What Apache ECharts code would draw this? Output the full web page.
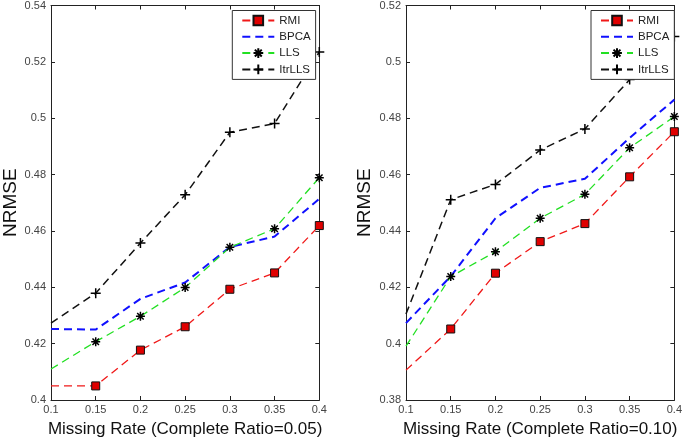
<!DOCTYPE html>
<html>
<head>
<meta charset="utf-8">
<script src="https://cdn.jsdelivr.net/npm/echarts@6/dist/echarts.min.js"></script>
<style>
  html, body { margin: 0; padding: 0; background: #fff; }
  #main { width: 685px; height: 443px; }
</style>
</head>
<body>
<div id="main"></div>
<script>
// missing rate on the x axis
var missingRate = [0.1, 0.15, 0.2, 0.25, 0.3, 0.35, 0.4];
var methods = ['RMI', 'BPCA', 'LLS', 'ItrLLS'];

// left panel: complete ratio = 0.05
var rmi05    = [0.405, 0.405, 0.4177, 0.426, 0.4393, 0.4451, 0.4619];
var bpca05   = [0.4252, 0.425, 0.4359, 0.4417, 0.4543, 0.458, 0.4714];
var lls05    = [0.411, 0.4207, 0.4297, 0.4399, 0.4542, 0.4608, 0.4789];
var itrlls05 = [0.4273, 0.4379, 0.4557, 0.4728, 0.495, 0.4981, 0.5235];

// right panel: complete ratio = 0.10
var rmi10    = [0.3906, 0.4052, 0.425, 0.4362, 0.4426, 0.4592, 0.4752];
var bpca10   = [0.4073, 0.4239, 0.4445, 0.4553, 0.4585, 0.473, 0.4866];
var lls10    = [0.3991, 0.4238, 0.4326, 0.4445, 0.453, 0.4695, 0.4806];
var itrlls10 = [0.4105, 0.4511, 0.4565, 0.4687, 0.4762, 0.4937, 0.509];

var FONT = 'Liberation Sans, Arial, sans-serif';
var DASH = [8, 5];

// MATLAB style markers
var asterisk = 'path://M0,-5L0,5M-5,0L5,0M-3.6,-3.6L3.6,3.6M-3.6,3.6L3.6,-3.6';
var plus = 'path://M0,-5L0,5M-5,0L5,0';

var styles = {
    RMI: { color: '#f01818', width: 1.3, symbol: 'rect', size: 8,
           item: { color: '#e00000', borderColor: '#111', borderWidth: 1 } },
    BPCA: { color: '#1010ff', width: 2, symbol: 'none', size: 0,
            item: { color: '#1010ff' } },
    LLS: { color: '#22e022', width: 1.3, symbol: asterisk, size: 9,
           item: { color: '#000', borderColor: '#000', borderWidth: 1.5 } },
    ItrLLS: { color: '#111', width: 1.5, symbol: plus, size: 10,
              item: { color: '#000', borderColor: '#000', borderWidth: 1.5 } }
};

function makeSeries(name, values, axisIdx) {
    var st = styles[name];
    var data = [];
    for (var i = 0; i < missingRate.length; i++) {
        if (i === 0) {
            data.push({ value: [missingRate[i], values[i]], symbol: 'none' });
        } else {
            data.push([missingRate[i], values[i]]);
        }
    }
    return {
        name: name,
        type: 'line',
        xAxisIndex: axisIdx,
        yAxisIndex: axisIdx,
        data: data,
        symbol: st.symbol,
        symbolSize: st.size,
        showSymbol: st.symbol !== 'none',
        clip: false,
        silent: true,
        lineStyle: { color: st.color, width: st.width, type: DASH },
        itemStyle: st.item,
        z: name === 'ItrLLS' ? 3 : 2
    };
}

function xAxes(grid, title) {
    return [{
        gridIndex: grid, type: 'value', position: 'bottom',
        min: 0.1, max: 0.4, interval: 0.05,
        axisLine: { show: true, lineStyle: { color: '#222' } },
        axisTick: { inside: true, length: 4, lineStyle: { color: '#222' } },
        axisLabel: { color: '#444', fontSize: 11, fontFamily: FONT, margin: 4 },
        splitLine: { show: false },
        name: title, nameLocation: 'middle', nameGap: 21,
        nameTextStyle: { color: '#111', fontSize: 17, fontFamily: FONT }
    }, {
        gridIndex: grid, type: 'value', position: 'top',
        min: 0.1, max: 0.4, interval: 0.05,
        axisLine: { show: true, lineStyle: { color: '#222' } },
        axisTick: { inside: true, length: 4, lineStyle: { color: '#222' } },
        axisLabel: { show: false },
        splitLine: { show: false }
    }];
}

function yAxes(grid, min, max, gap) {
    return [{
        gridIndex: grid, type: 'value', position: 'left',
        min: min, max: max, interval: 0.02,
        axisLine: { show: true, lineStyle: { color: '#222' } },
        axisTick: { inside: true, length: 4, lineStyle: { color: '#222' } },
        axisLabel: { color: '#444', fontSize: 11, fontFamily: FONT, margin: 5 },
        splitLine: { show: false },
        name: 'NRMSE', nameLocation: 'middle', nameGap: gap,
        nameTextStyle: { color: '#111', fontSize: 19, fontFamily: FONT }
    }, {
        gridIndex: grid, type: 'value', position: 'right',
        min: min, max: max, interval: 0.02,
        axisLine: { show: true, lineStyle: { color: '#222' } },
        axisTick: { inside: true, length: 4, lineStyle: { color: '#222' } },
        axisLabel: { show: false },
        splitLine: { show: false }
    }];
}

function legendAt(left) {
    var items = methods.map(function (m) {
        // BPCA has no marker, hide the default legend symbol
        if (m === 'BPCA') return { name: m, itemStyle: { opacity: 0 } };
        return { name: m };
    });
    return {
        orient: 'vertical',
        left: left, top: 10.5,
        data: items,
        itemWidth: 32, itemHeight: 12, itemGap: 4.3,
        padding: [4, 5, 4, 9],
        backgroundColor: '#fff',
        borderColor: '#333', borderWidth: 1, borderRadius: 0,
        textStyle: { color: '#222', fontSize: 11.5, fontFamily: FONT },
        selectedMode: false,
        z: 10
    };
}

var myChart = echarts.init(document.getElementById('main'));

var option = {
    animation: false,
    backgroundColor: '#fff',
    grid: [
        { left: 47.7, top: 4.7, width: 271.6, height: 400.3 },
        { left: 406, top: 4.7, width: 272.3, height: 400.3 }
    ],
    legend: [legendAt(232.3), legendAt(591)],
    xAxis: xAxes(0, 'Missing Rate (Complete Ratio=0.05)')
        .concat(xAxes(1, 'Missing Rate (Complete Ratio=0.10)')),
    yAxis: yAxes(0, 0.4, 0.54, 31).concat(yAxes(1, 0.38, 0.52, 32)),
    series: [
        makeSeries('RMI', rmi05, 0),
        makeSeries('BPCA', bpca05, 0),
        makeSeries('LLS', lls05, 0),
        makeSeries('ItrLLS', itrlls05, 0),
        makeSeries('RMI', rmi10, 2),
        makeSeries('BPCA', bpca10, 2),
        makeSeries('LLS', lls10, 2),
        makeSeries('ItrLLS', itrlls10, 2)
    ]
};

myChart.setOption(option);
</script>
</body>
</html>
